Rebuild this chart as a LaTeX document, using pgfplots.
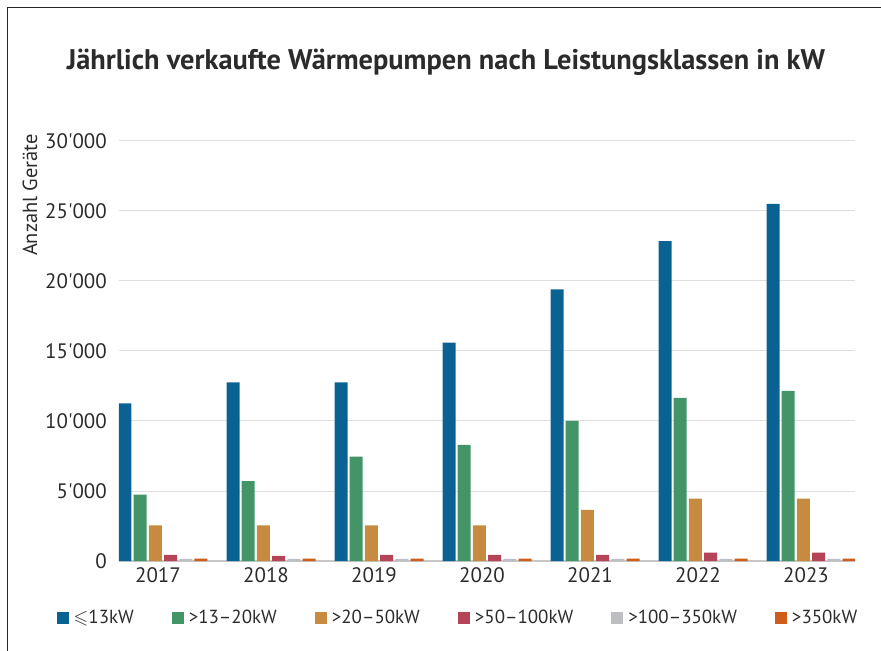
\documentclass[border=0pt]{standalone}
\usepackage{pgfplots}
\pgfplotsset{compat=1.18}
\usepackage{amssymb}
\usepackage{fontspec}
\setmainfont{PT Sans}
\definecolor{cA}{HTML}{0A6293}
\definecolor{cB}{HTML}{439467}
\definecolor{cC}{HTML}{C68B40}
\definecolor{cD}{HTML}{B64458}
\definecolor{cE}{HTML}{BDBEC2}
\definecolor{cF}{HTML}{CF5D1A}
\definecolor{txt}{HTML}{2B2B2B}
\begin{document}
\begin{tikzpicture}
\path[use as bounding box] (-119bp,-90bp) rectangle (762bp,561bp);
\draw[line width=1bp, black!85] (-111bp,-90bp) -- (-111bp,553bp) -- (762bp,553bp);
\node[text=txt, font=\fontsize{28.5}{32}\selectfont\bfseries] at (327bp,499bp) {Jährlich verkaufte Wärmepumpen nach Leistungsklassen in kW};
\node[text=txt, rotate=90, font=\fontsize{20.5}{24}\selectfont] at (-89bp,366bp) {Anzahl Geräte};
\begin{axis}[
  scale only axis, width=736bp, height=420bp,
  xmin=2016.5926, xmax=2023.4074, ymin=0, ymax=30000,
  scaled y ticks=false,
  ybar=2.2bp, bar width=13bp,
  axis line style={draw=none},
  major tick length=0pt,
  ymajorgrids, grid style={draw=black!13, line width=1bp},
  extra y ticks={0}, extra y tick labels={},
  extra y tick style={grid=major, major grid style={draw=black!22, line width=1.8bp}},
  xtick={2017,2018,2019,2020,2021,2022,2023},
  xticklabels={2017,2018,2019,2020,2021,2022,2023},
  ytick={0,5000,10000,15000,20000,25000,30000},
  yticklabels={0,5\textquotesingle 000,10\textquotesingle 000,15\textquotesingle 000,20\textquotesingle 000,25\textquotesingle 000,30\textquotesingle 000},
  ticklabel style={text=txt, font=\fontsize{21}{24}\selectfont, inner sep=0pt},
  yticklabel style={xshift=-12bp},
  xticklabel style={yshift=-6bp, xshift=-5bp},
  legend columns=6,
  legend image code/.code={\fill[#1,draw=none] (0bp,-6bp) rectangle (12bp,6bp);},
  legend style={at={(0.4626,-0.1357)}, anchor=center, draw=none, fill=none,
    font=\fontsize{19}{22}\selectfont, text=txt,
    nodes={inner xsep=5bp},
    /tikz/every even column/.append style={column sep=33bp}},
]
\addplot[fill=cA, draw=none] coordinates {(2017,11250) (2018,12750) (2019,12750) (2020,15600) (2021,19400) (2022,22850) (2023,25500)};
\addplot[fill=cB, draw=none] coordinates {(2017,4750) (2018,5700) (2019,7450) (2020,8300) (2021,10000) (2022,11650) (2023,12150)};
\addplot[fill=cC, draw=none] coordinates {(2017,2550) (2018,2550) (2019,2550) (2020,2550) (2021,3650) (2022,4450) (2023,4450)};
\addplot[fill=cD, draw=none] coordinates {(2017,430) (2018,360) (2019,430) (2020,430) (2021,430) (2022,600) (2023,600)};
\addplot[fill=cE, draw=none] coordinates {(2017,160) (2018,160) (2019,160) (2020,160) (2021,160) (2022,160) (2023,160)};
\addplot[fill=cF, draw=none] coordinates {(2017,170) (2018,170) (2019,170) (2020,170) (2021,170) (2022,170) (2023,170)};
\legend{$\leqslant$13kW, >13–20kW, >20–50kW, >50–100kW, >100–350kW, >350kW}
\end{axis}
\end{tikzpicture}
\end{document}
